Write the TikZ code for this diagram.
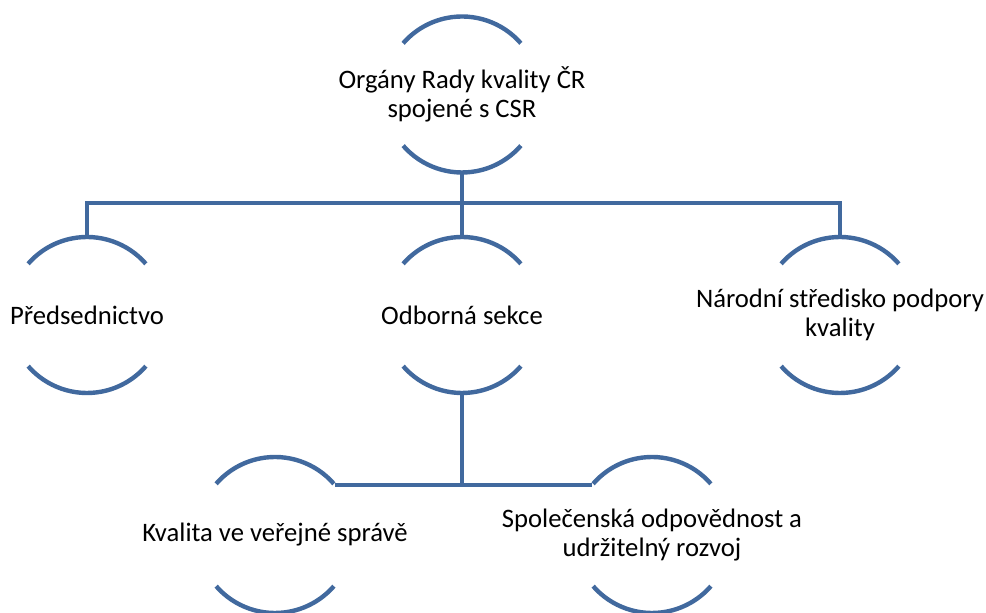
\documentclass[tikz,border=0pt]{standalone}
\usepackage{fontspec}
\setmainfont{Carlito}
\usepackage{xcolor}
\usepackage{tikz}
\usetikzlibrary{positioning}
\definecolor{arcc}{RGB}{65,105,158}

% two arcs of one unit circle: top and bottom halves of the ring
\newcommand{\ringhalves}[1]{%
  \draw[arcline] (#1.41) arc[start angle=41,end angle=139,radius=58.5pt];
  \draw[arcline] (#1.221) arc[start angle=221,end angle=319,radius=58.5pt];}

\begin{document}
\begin{tikzpicture}[x=0.75pt,y=0.75pt,
  unit/.style={circle,minimum size=117pt,inner sep=0pt,outer sep=0pt},
  txt/.style={align=center,font=\fontsize{20}{21.75}\selectfont,text=black},
  arcline/.style={arcc,line width=3.3pt},
  link/.style={arcc,line width=3.3pt}]
\useasboundingbox (0,0) rectangle (986,613);
% units of the hierarchy
\node[unit,label={[txt]center:Orgány Rady kvality ČR\\spojené s CSR}] (top) at (462,518.5) {};
\node[unit,label={[txt]center:Předsednictvo}] (pred) at (87,298) {};
\node[unit,label={[txt]center:Odborná sekce}] (odb) at (462,298) {};
\node[unit,label={[txt]center:Národní středisko podpory\\kvality}] (nar) at (840,298) {};
\node[unit,label={[txt]center:Kvalita ve veřejné správě}] (kval) at (275,78) {};
\node[unit,label={[txt]center:Společenská odpovědnost a\\udržitelný rozvoj}] (spol) at (652,78) {};
\coordinate (bar) at (462,410);
% rings
\ringhalves{top}
\ringhalves{pred}
\ringhalves{odb}
\ringhalves{nar}
\ringhalves{kval}
\ringhalves{spol}
% connectors
\draw[link] (top.south) -- (odb.north);
\draw[link] (bar) -| (pred.north);
\draw[link] (bar) -| (nar.north);
\draw[link] (odb.south) |- (kval.40);
\draw[link] (odb.south) |- (spol.140);
\end{tikzpicture}
\end{document}
